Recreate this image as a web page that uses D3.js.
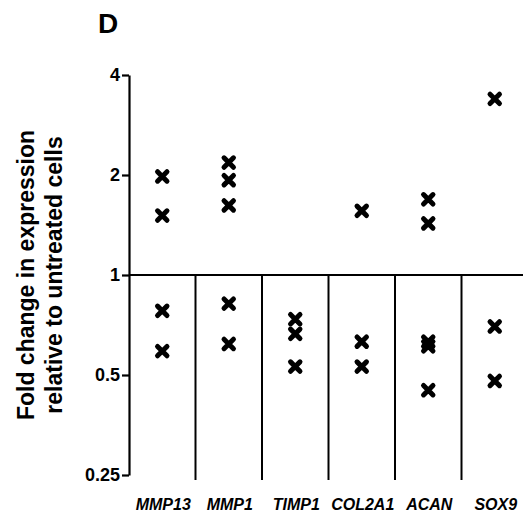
<!DOCTYPE html>
<html lang="en">
<head>
    <meta charset="UTF-8">
    <title>Fold change by gene</title>
    <script src="https://d3js.org/d3.v7.min.js"></script>
    <style>
        body { margin: 0; background: #fff; font-family: "Liberation Sans", Arial, sans-serif; }
        .gene { font-size: 16px; font-weight: bold; font-style: italic; }
    </style>
</head>
<body>
    <div id="chart"></div>
    <script>
        const genes = ["MMP13", "MMP1", "TIMP1", "COL2A1", "ACAN", "SOX9"];
        const foldChange = [
            [1.98, 1.51, 0.78, 0.59],
            [2.18, 1.93, 1.62, 0.82, 0.62],
            [0.736, 0.665, 0.53],
            [1.56, 0.63, 0.53],
            [1.69, 1.43, 0.63, 0.61, 0.45],
            [3.39, 0.70, 0.48]
        ];
        const yTicks = [0.25, 0.5, 1, 2, 4];
        const yTickLabels = ["0.25", "0.5", "1", "2", "4"];

        const width = 523, height = 519;
        const x0 = 129, yTop = 75, yBottom = 475;

        const svg = d3.select("#chart").append("svg")
            .attr("width", width)
            .attr("height", height);

        const x = d3.scaleBand()
            .domain(genes)
            .range([x0, x0 + 66.5 * genes.length]);

        const y = d3.scaleLog().base(2)
            .domain([0.25, 4])
            .range([yBottom, yTop]);

        // panel letter
        svg.append("text")
            .attr("x", 108).attr("y", 33)
            .attr("text-anchor", "middle")
            .style("font-size", "28px").style("font-weight", "bold")
            .text("D");

        // y axis
        const yAxis = svg.append("g")
            .attr("transform", `translate(${x0},0)`)
            .call(d3.axisLeft(y)
                .tickValues(yTicks)
                .tickFormat((d, i) => yTickLabels[i])
                .tickSize(7)
                .tickSizeOuter(0)
                .tickPadding(2));
        yAxis.selectAll("path, line").attr("stroke", "#000").attr("stroke-width", 2.2);
        yAxis.selectAll("text")
            .attr("fill", "#000")
            .style("font-family", "'Liberation Sans', Arial, sans-serif")
            .style("font-size", "18px")
            .style("font-weight", "bold");

        // baseline at 1 and category separators
        svg.append("line")
            .attr("x1", x0).attr("x2", x.range()[1])
            .attr("y1", y(1)).attr("y2", y(1))
            .attr("stroke", "#000").attr("stroke-width", 2);

        svg.selectAll(".sep")
            .data(genes.slice(1))
            .enter().append("line")
            .attr("class", "sep")
            .attr("x1", d => x(d)).attr("x2", d => x(d))
            .attr("y1", y(1)).attr("y2", yBottom + 5)
            .attr("stroke", "#000").attr("stroke-width", 2);

        // gene labels
        svg.selectAll(".gene")
            .data(genes)
            .enter().append("text")
            .attr("class", "gene")
            .attr("x", d => x(d) + x.bandwidth() / 2 + 1)
            .attr("y", 510)
            .attr("text-anchor", "middle")
            .text(d => d);

        // y title
        const title = svg.append("text")
            .attr("transform", `translate(34,${y(1)}) rotate(-90)`)
            .attr("text-anchor", "middle")
            .style("font-size", "23px").style("font-weight", "bold");
        title.append("tspan").attr("x", 0).attr("dy", 0).text("Fold change in expression");
        title.append("tspan").attr("x", 0).attr("dy", 28).text("relative to untreated cells");

        // markers
        const points = genes.flatMap((g, i) => foldChange[i].map(v => ({ gene: g, value: v })));
        const marker = d3.symbol().type(d3.symbolX).size(60);

        svg.selectAll(".pt")
            .data(points)
            .enter().append("path")
            .attr("class", "pt")
            .attr("transform", d => `translate(${x(d.gene) + x.bandwidth() / 2},${y(d.value)})`)
            .attr("d", marker)
            .attr("fill", "none")
            .attr("stroke", "#000")
            .attr("stroke-width", 5)
            .attr("stroke-linecap", "round");
    </script>
</body>
</html>
